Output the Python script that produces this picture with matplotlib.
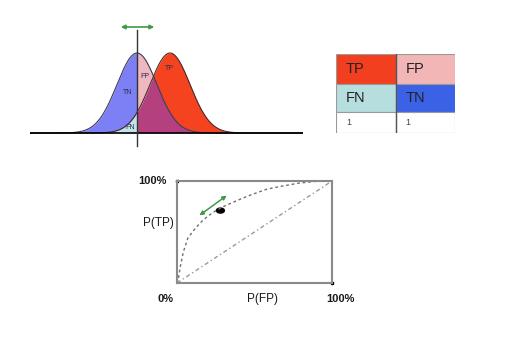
import numpy as np
import matplotlib.pyplot as plt
from matplotlib.patches import Rectangle, Ellipse

plt.rcParams['font.family'] = ['Liberation Sans', 'DejaVu Sans']

W, H = 518, 343

# score distributions, in units of sigma
neg_mean, pos_mean, sigma = 0.0, 1.65, 1.0
threshold = 0.0
dist_labels = {"TN": (-0.45, 0.51), "FP": (0.42, 0.70), "TP": (1.62, 0.80), "FN": (-0.35, 0.07)}

# confusion table
cell_labels = [["TP", "FP"], ["FN", "TN"], ["1", "1"]]
cell_colors = [["#f23f1f", "#f2b6b6"], ["#b6dede", "#3b62e6"], ["white", "white"]]
row_edges = [0, 30, 58, 79]

# ROC curve
roc_fpr = [0, 0.006, 0.02, 0.04, 0.07, 0.12, 0.17, 0.23, 0.30, 0.39, 0.47, 0.58, 0.66, 0.79, 0.92, 1.0]
roc_tpr = [0, 0.01, 0.15, 0.30, 0.44, 0.54, 0.62, 0.69, 0.75, 0.81, 0.86, 0.92, 0.945, 0.98, 1.0, 1.0]
op_fpr, op_tpr = 0.28, 0.71


def px_rect(x0, y0, x1, y1):
    '''pixel box (top-left origin) -> figure fraction rect'''
    return [x0 / W, 1 - y1 / H, (x1 - x0) / W, (y1 - y0) / H]


def ftext(px, py, s, **kw):
    fig.text(px / W, 1 - py / H, s, **kw)


def gauss(x, mu):
    return np.exp(-0.5 * ((x - mu) / sigma) ** 2)


fig = plt.figure(figsize=(W / 100, H / 100), dpi=100)
fig.patch.set_facecolor("white")

## top-left: the two overlapping distributions with a threshold
ax = fig.add_axes(px_rect(30, 20, 303, 150))
ax.set_xlim(-5.35, 8.3)
ax.set_ylim(-0.2125, 1.4125)
ax.axis("off")

xl = np.linspace(-5.35, threshold, 400)
xr = np.linspace(threshold, 8.3, 600)
nl, pl = gauss(xl, neg_mean), gauss(xl, pos_mean)
nr, pr = gauss(xr, neg_mean), gauss(xr, pos_mean)
lo_l, lo_r = np.minimum(nl, pl), np.minimum(nr, pr)

ax.fill_between(xl, 0, lo_l, color="#c2e4e4", lw=0)
ax.fill_between(xl, lo_l, nl, color="#7d80f4", lw=0)
ax.fill_between(xr, 0, lo_r, color="#b5407f", lw=0)
ax.fill_between(xr, lo_r, nr, color="#efb8c0", lw=0)
ax.fill_between(xr, lo_r, pr, color="#f5431f", lw=0)

xa = np.concatenate([xl, xr])
ax.plot(xa, gauss(xa, neg_mean), color="#3a3a5a", lw=0.8)
ax.plot(xa, gauss(xa, pos_mean), color="#4a2a2a", lw=0.8)
ax.plot([-5.35, 8.3], [0, 0], color="black", lw=1.2)
ax.plot([threshold, threshold], [-0.1625, 1.2875], color="#333333", lw=1)
ax.annotate("", xy=(1.0, 1.325), xytext=(-0.95, 1.325),
            arrowprops=dict(arrowstyle="<|-|>", color="#3f9a45", lw=1.2, mutation_scale=6))
for lab, (lx, ly) in dist_labels.items():
    ax.text(lx, ly, lab, fontsize=5, color="#2a2a55", ha="center", va="center")

## top-right: confusion table
axt = fig.add_axes(px_rect(336, 54, 455, 133))
axt.set_xlim(0, 2)
axt.set_ylim(row_edges[-1], 0)
axt.axis("off")
for r in range(3):
    for c in range(2):
        y0, y1 = row_edges[r], row_edges[r + 1]
        axt.add_patch(Rectangle((c, y0), 1, y1 - y0, facecolor=cell_colors[r][c],
                                edgecolor="#9a9a9a", lw=0.8))
        big = r < 2
        axt.text(c + 0.17, (y0 + y1) / 2, cell_labels[r][c],
                 fontsize=10.5 if big else 6.5, color="#222222" if big else "#444444",
                 ha="left", va="center")
axt.plot([1, 1], [0, row_edges[-1]], color="#555555", lw=1)

## bottom: ROC space
axr = fig.add_axes(px_rect(177, 181, 332, 283))
axr.set_xlim(0, 1)
axr.set_ylim(0, 1)
axr.set_xticks([])
axr.set_yticks([])
for s in axr.spines.values():
    s.set_color("#8a8a8a")
    s.set_linewidth(1.5)
axr.plot(roc_fpr, roc_tpr, ls=(0, (2, 2)), color="#707070", lw=1)
axr.plot([0, 1], [0, 1], ls=(0, (3, 2, 1, 2)), color="#9a9a9a", lw=1)
axr.add_patch(Ellipse((op_fpr, op_tpr), 8 / 155, 5 / 102, color="black"))
axr.annotate("", xy=(0.335, 0.873), xytext=(0.13, 0.647),
             arrowprops=dict(arrowstyle="<|-|>", color="#3f9a45", lw=1.1, mutation_scale=6))
axr.plot([0, 1], [1, 0], "s", color="black", ms=2, ls="none", clip_on=False)

pct_kw = dict(fontsize=8, fontweight="bold", color="#1a1a1a", va="center")
lab_kw = dict(fontsize=8.5, color="#1a1a1a", va="center")
ftext(167, 181, "100%", ha="right", **pct_kw)
ftext(158, 223, "P(TP)", ha="center", **lab_kw)
ftext(165, 299, "0%", ha="center", **pct_kw)
ftext(262, 299, "P(FP)", ha="center", **lab_kw)
ftext(340, 299, "100%", ha="center", **pct_kw)

fig.savefig("out.png", dpi=100)
